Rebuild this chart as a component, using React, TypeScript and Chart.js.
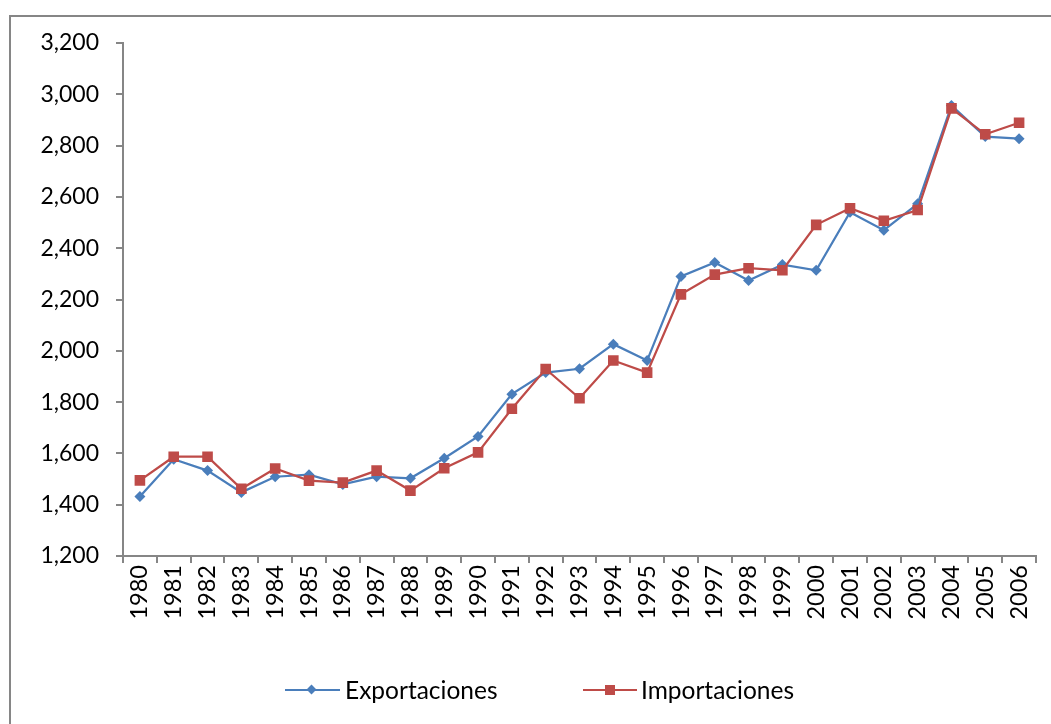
import React, { useEffect, useRef } from 'react';
import { Chart, registerables } from 'chart.js';

Chart.register(...registerables);

const years = [
  '1980', '1981', '1982', '1983', '1984', '1985', '1986', '1987', '1988', '1989',
  '1990', '1991', '1992', '1993', '1994', '1995', '1996', '1997', '1998', '1999',
  '2000', '2001', '2002', '2003', '2004', '2005', '2006',
];

const exportaciones = [
  1432, 1577, 1533, 1448, 1509, 1517, 1479, 1509, 1503, 1581,
  1666, 1831, 1915, 1930, 2026, 1962, 2290, 2344, 2274, 2336,
  2314, 2540, 2470, 2573, 2956, 2835, 2827,
];

const importaciones = [
  1495, 1587, 1587, 1462, 1541, 1494, 1486, 1533, 1455, 1542,
  1604, 1774, 1929, 1815, 1962, 1915, 2220, 2297, 2322, 2314,
  2491, 2556, 2507, 2549, 2945, 2844, 2889,
];

const seriesNames = ['Exportaciones', 'Importaciones'];
const yMin = 1200;
const yMax = 3200;
const yStep = 200;

const BLUE = '#4A7EBB';
const RED = '#BE4B48';
const AXIS = '#868686';
const FONT = 'Lato, "Open Sans", sans-serif';

export default function App() {
  const ref = useRef<HTMLCanvasElement>(null);

  useEffect(() => {
    if (!ref.current) return;
    const chart = new Chart(ref.current, {
      type: 'line',
      data: {
        labels: years,
        datasets: [
          {
            label: seriesNames[0],
            data: exportaciones,
            borderColor: BLUE,
            backgroundColor: BLUE,
            borderWidth: 2.25,
            pointStyle: 'rectRot',
            pointRadius: 5.5,
            pointBorderWidth: 0,
            pointBackgroundColor: BLUE,
            tension: 0,
            order: 1,
          },
          {
            label: seriesNames[1],
            data: importaciones,
            borderColor: RED,
            backgroundColor: RED,
            borderWidth: 2.25,
            pointStyle: 'rect',
            pointRadius: 7.5,
            pointBorderWidth: 0,
            pointBackgroundColor: RED,
            tension: 0,
            order: 0,
          },
        ],
      },
      options: {
        responsive: false,
        maintainAspectRatio: false,
        animation: false,
        events: [],
        layout: { padding: { left: 0, right: 15, top: 43, bottom: 0 } },
        plugins: {
          legend: { display: false },
          tooltip: { enabled: false },
        },
        scales: {
          x: {
            type: 'category',
            offset: true,
            grid: {
              offset: true,
              drawOnChartArea: false,
              drawTicks: true,
              tickLength: 7,
              color: AXIS,
              lineWidth: 2,
            },
            border: { display: true, color: AXIS, width: 2 },
            ticks: {
              autoSkip: false,
              minRotation: 90,
              maxRotation: 90,
              padding: 2,
              color: '#000',
              font: { family: FONT, size: 23.5 },
            },
            afterFit: (s: any) => {
              s.height = 168;
            },
          },
          y: {
            min: yMin,
            max: yMax,
            grid: {
              drawOnChartArea: false,
              drawTicks: true,
              tickLength: 7,
              color: AXIS,
              lineWidth: 2,
            },
            border: { display: true, color: AXIS, width: 2 },
            ticks: {
              stepSize: yStep,
              padding: 17,
              color: '#000',
              font: { family: FONT, size: 23 },
              callback: (v: any) => Number(v).toLocaleString('en-US'),
            },
            afterFit: (s: any) => {
              s.width = 123;
            },
          },
        },
      },
    });
    return () => chart.destroy();
  }, []);

  const textStyle: React.CSSProperties = {
    position: 'absolute',
    top: 674,
    fontFamily: FONT,
    fontSize: 24.5,
    lineHeight: '32px',
    color: '#000',
    whiteSpace: 'nowrap',
  };

  return (
    <div
      style={{
        position: 'fixed',
        left: 0,
        top: 0,
        width: 1051,
        height: 724,
        background: '#fff',
        overflow: 'hidden',
      }}
    >
      <div
        style={{
          position: 'absolute',
          left: 9,
          top: 15,
          right: 0,
          bottom: 0,
          borderLeft: `2px solid ${AXIS}`,
          borderTop: `2px solid ${AXIS}`,
        }}
      />
      <canvas
        ref={ref}
        width={1051}
        height={724}
        style={{ position: 'absolute', left: 0, top: 0 }}
      />
      {/* Legend */}
      <div style={{ position: 'absolute', left: 285, top: 689, width: 55, height: 2, background: BLUE }} />
      <div
        style={{
          position: 'absolute',
          left: 308,
          top: 686,
          width: 7,
          height: 7,
          background: BLUE,
          transform: 'rotate(45deg)',
        }}
      />
      <div style={{ ...textStyle, left: 345 }}>{seriesNames[0]}</div>
      <div style={{ position: 'absolute', left: 583, top: 689, width: 54, height: 2, background: RED }} />
      <div
        style={{
          position: 'absolute',
          left: 605,
          top: 685,
          width: 10,
          height: 10,
          background: RED,
        }}
      />
      <div style={{ ...textStyle, left: 641 }}>{seriesNames[1]}</div>
    </div>
  );
}
